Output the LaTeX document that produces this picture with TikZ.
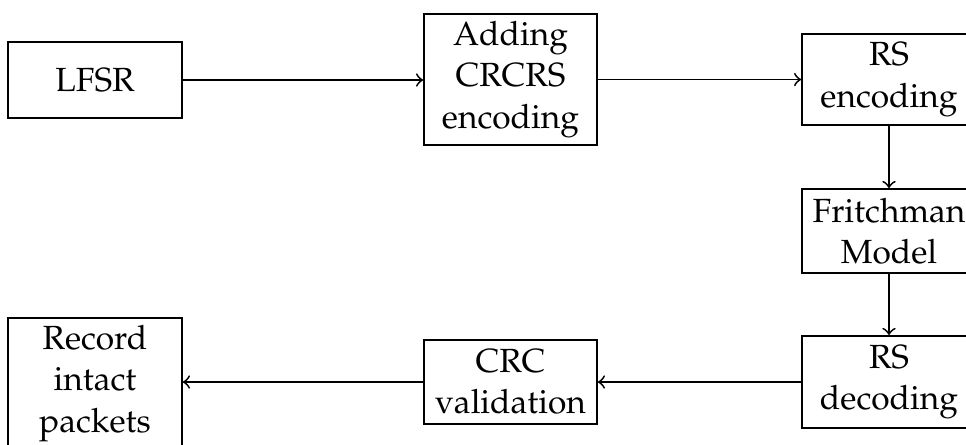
\documentclass[tikz,border=0pt]{standalone}
\usepackage[T1]{fontenc}
\usepackage{mathpazo}
\begin{document}
\begin{tikzpicture}[x=0.2985pt, y=-0.2985pt, line width=0.55pt,
  blockbox/.style={draw, rectangle, align=center, inner sep=0pt,
    minimum width=51.9pt, font=\fontsize{10}{12.3}\selectfont},
  flow/.style={->}]
\useasboundingbox (0,0) rectangle (966,444);
\clip (0,0) rectangle (966,444);

% top row
\node[blockbox, minimum height=22.7pt] (lfsr) at (95,80) {LFSR};
\node[blockbox, minimum width=51.6pt, minimum height=39.1pt] (crcenc) at (510.5,79.5)
  {Adding\\CRCRS\\encoding};
\node[blockbox, minimum height=27.2pt] (rsenc) at (889,79.5) {RS\\encoding};

% channel
\node[blockbox, minimum height=25.1pt] (chan) at (889,231) {Fritchman\\Model};

% bottom row
\node[blockbox, minimum height=27.5pt] (rsdec) at (889,382) {RS\\decoding};
\node[blockbox, minimum width=51.6pt, minimum height=25.1pt] (crcval) at (510.5,382)
  {CRC\\validation};
\node[blockbox, minimum height=39.1pt] (rec) at (95,383.5) {Record\\intact\\packets};

% connectors
\draw[flow] (lfsr.east) -- (lfsr.east -| crcenc.west);
\draw[flow] (crcenc.east) -- (crcenc.east -| rsenc.west);
\draw[flow] (rsenc.south) -- (chan.north);
\draw[flow] (chan.south) -- (rsdec.north);
\draw[flow] (rsdec.west) -- (rsdec.west -| crcval.east);
\draw[flow] (crcval.west) -- (crcval.west -| rec.east);
\end{tikzpicture}
\end{document}
